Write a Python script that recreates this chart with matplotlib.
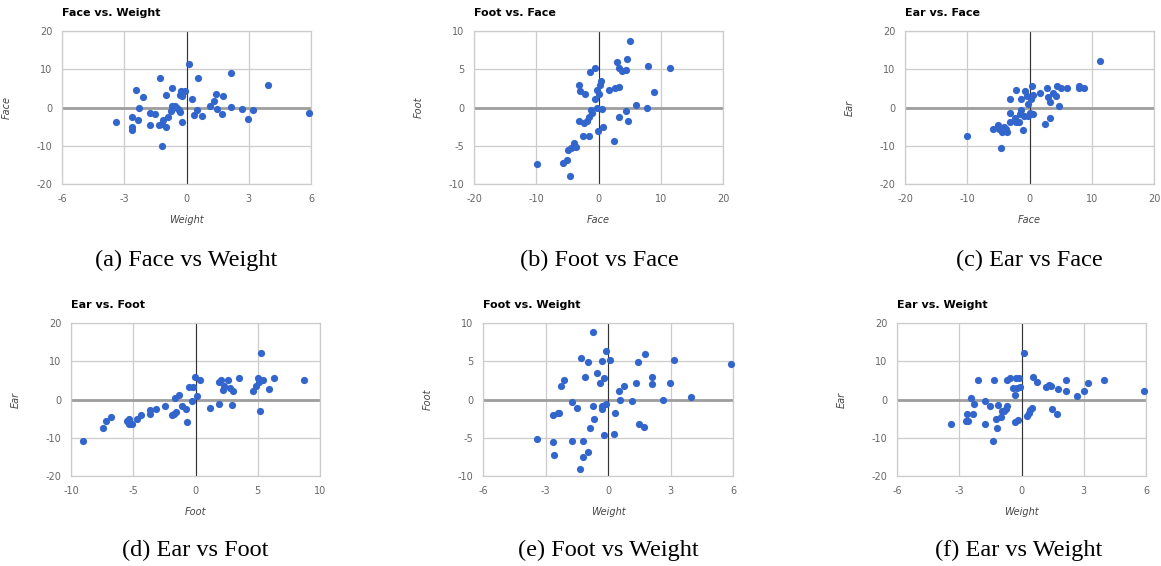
import matplotlib
matplotlib.use("Agg")
import matplotlib.pyplot as plt

# (a) Face vs Weight
a_weight = [-3.41, -2.64, -2.64, -2.61, -2.42, -2.32, -2.29, -2.10, -1.74, -1.74,
            -1.52, -1.30, -1.34, -1.20, -1.20, -1.12, -0.98, -1.01, -0.91, -0.75,
            -0.69, -0.72, -0.56, -0.45, -0.37, -0.30, -0.27, -0.30, -0.21, -0.21,
            -0.06, 0.11, 0.26, 0.35, 0.50, 0.56, 0.75, 1.15, 1.31, 1.41,
            1.47, 1.71, 1.76, 2.13, 2.13, 2.66, 2.98, 3.20, 3.95, 5.89]
a_face = [-3.7, -2.4, -5.0, -5.8, 4.7, -3.3, -0.2, 2.7, -1.5, -4.6,
          -1.6, 7.8, -4.6, -10.0, -4.3, -3.3, 3.2, -5.2, -2.5, -1.0,
          5.0, 0.5, 0.4, -0.1, -0.6, -1.2, 4.2, 3.2, -3.9, 3.1,
          4.4, 11.3, 2.3, -2.0, -0.6, 7.8, -2.3, 0.5, 1.7, 3.6,
          -0.3, -1.7, 2.9, 8.9, 0.2, -0.3, -3.1, -0.7, 6.0, -1.5]

# (b) Foot vs Face
b_face = [-9.95, -5.78, -5.08, -4.55, -4.87, -4.44, -4.06, -3.90, -3.58, -3.16,
          -3.05, -3.21, -2.46, -2.35, -2.14, -1.87, -1.60, -1.60, -1.34, -1.28,
          -1.02, -0.59, -0.53, -0.32, -0.27, -0.16, 0.00, 0.27, 0.43, 0.64,
          0.70, 1.66, 2.41, 2.73, 2.94, 3.26, 3.26, 3.32, 3.74, 4.39,
          4.49, 4.55, 4.81, 5.13, 6.10, 7.86, 7.97, 8.88, 11.44]
b_foot = [-7.4, -7.2, -6.8, -9.0, -5.5, -5.3, -5.2, -4.7, -5.1, 2.9,
          2.2, -1.8, -3.7, -2.0, 1.8, -1.7, -3.7, -1.3, 4.7, -0.3,
          -0.7, 5.1, 1.1, 2.3, 0.0, -3.1, 1.8, 2.9, 3.4, -0.2,
          -2.5, 2.3, -4.4, 2.5, 5.9, 2.7, 5.1, -1.3, 4.8, 4.9,
          -0.5, 6.3, -1.7, 8.7, 0.3, -0.1, 5.4, 2.0, 5.2]

# (c) Ear vs Face
c_face = [-10.0, 11.34, -5.83, -5.13, -4.92, -4.60, -4.49, -4.17, -3.85, -3.58,
          -3.20, -3.15, -3.10, -2.40, -2.19, -2.09, -1.71, -1.44, -1.39, -1.55,
          -1.12, -0.90, -0.69, -0.37, -0.27, -0.21, 0.00, 0.32, 0.43, 0.64,
          0.64, 1.66, 2.41, 2.78, 2.94, 3.26, 3.26, 3.74, 4.33, 4.44,
          4.81, 5.08, 5.99, 7.91, 7.91, 8.82]
c_ear = [-7.4, 12.1, -5.5, -4.6, -5.6, -10.7, -6.3, -5.1, -5.5, -6.3,
         -3.9, -1.4, 2.3, -2.8, 4.6, -3.7, -3.9, 2.3, -0.6, -1.7,
         -6.0, -2.3, 4.3, 2.9, 0.8, -2.3, -1.5, 2.2, 5.7, 3.3,
         -1.6, 3.9, -4.2, 5.0, 2.7, 1.4, -2.8, 3.7, 3.1, 5.6,
         0.5, 5.0, 5.2, 5.7, 5.0, 5.2]

# (d) Ear vs Foot
d_foot = [-9.04, -7.43, -7.16, -6.81, -5.53, -5.34, -5.31, -5.07, -4.67, -4.38,
          -3.63, -3.63, -3.15, -2.48, -1.89, -1.75, -1.59, -1.62, -1.30, -1.08,
          -0.76, -0.71, -0.50, -0.28, -0.17, -0.04, 0.09, 0.39, 1.16, 1.86,
          1.89, 2.05, 2.24, 2.26, 2.61, 2.74, 2.96, 3.01, 3.47, 4.65,
          4.86, 4.99, 5.07, 5.15, 5.26, 5.42, 5.93, 6.30, 8.74]
d_ear = [-10.8, -7.4, -5.5, -4.5, -5.6, -5.2, -6.4, -6.5, -5.2, -4.1,
         -2.7, -3.9, -2.4, -1.6, -4.0, -3.8, -3.2, 0.4, 1.3, -1.6,
         -2.6, -5.9, 3.2, -0.5, 3.2, 5.9, 0.9, 5.2, -2.2, -1.3,
         4.5, 5.2, 2.4, 3.6, 5.2, 2.9, -1.4, 2.2, 5.7, 2.2,
         3.6, 5.5, 4.5, -2.9, 12.1, 5.1, 2.7, 5.7, 5.1]

# (e) Foot vs Weight
e_weight = [-3.40, -2.63, -2.62, -2.60, -2.41, -2.33, -2.28, -2.09, -1.73, -1.73,
            -1.51, -1.35, -1.28, -1.22, -1.19, -1.11, -0.98, -0.96, -0.88, -0.74,
            -0.71, -0.69, -0.53, -0.39, -0.30, -0.29, -0.27, -0.19, -0.18, -0.08,
            -0.10, 0.11, 0.27, 0.35, 0.51, 0.58, 0.75, 1.16, 1.32, 1.43,
            1.49, 1.73, 1.78, 2.13, 2.13, 2.66, 2.98, 3.19, 3.96, 5.89]
e_foot = [-5.1, -2.0, -5.5, -7.2, -1.7, -1.8, 1.8, 2.6, -0.3, -5.4,
          -1.1, -9.1, 5.4, -5.4, -7.5, 2.9, -6.9, 4.9, -3.7, -0.8,
          8.8, -2.5, 3.4, 2.2, -0.8, -1.3, 5.0, 2.8, -4.7, -0.6,
          6.3, 5.2, -4.5, -1.7, 1.1, -0.1, 1.8, -0.2, 2.2, 4.9,
          -3.2, -3.6, 5.9, 3.0, 2.0, 0.0, 2.2, 5.1, 0.3, 4.7]

# (f) Ear vs Weight
f_weight = [-3.40, -2.66, -2.63, -2.59, -2.42, -2.34, -2.29, -2.10, -1.76, -1.74,
            -1.52, -1.36, -1.31, -1.23, -1.18, -1.12, -0.99, -0.96, -0.84, -0.75,
            -0.70, -0.68, -0.54, -0.39, -0.31, -0.31, -0.25, -0.20, -0.18, -0.10,
            -0.06, 0.12, 0.26, 0.34, 0.42, 0.49, 0.57, 0.76, 1.16, 1.33,
            1.44, 1.49, 1.71, 1.76, 2.14, 2.14, 2.66, 2.99, 3.20, 3.96, 5.90]
f_ear = [-6.4, -5.6, -3.9, -5.6, 0.4, -3.9, -1.2, 5.2, -0.4, -6.4,
         -1.6, -10.8, 5.2, -5.2, -7.4, -1.4, -4.5, -2.9, -2.9, -2.6,
         5.2, -1.6, 5.7, 2.9, 1.3, -6.0, 5.6, 3.0, -5.3, 5.7,
         3.2, 12.1, -4.2, -3.5, -2.7, -2.2, 5.8, 4.5, 3.3, 3.8,
         3.6, -2.4, -3.9, 2.8, 5.2, 2.1, 0.8, 2.3, 4.4, 5.2, 2.3]

W, H = 1161, 566
fig = plt.figure(figsize=(W / 100, H / 100), dpi=100)

BLUE = "#3366cc"
GRID = "#cccccc"


def panel(left, top, right, bottom, x, y, xt, yt, title, xlabel, ylabel, caption, cap_x, cap_y):
    w_px = right - left
    h_px = bottom - top
    ax = fig.add_axes([left / W, 1 - bottom / H, w_px / W, h_px / H])
    ax.set_xlim(xt[0], xt[-1])
    ax.set_ylim(yt[0], yt[-1])
    ax.set_xticks(xt)
    ax.set_yticks(yt)
    ax.set_xticklabels([str(v) for v in xt])
    ax.set_yticklabels([str(v) for v in yt])
    ax.grid(True, color=GRID, lw=0.9)
    ax.set_axisbelow(True)
    for s in ax.spines.values():
        s.set_color(GRID)
        s.set_linewidth(0.9)
    ax.tick_params(length=0, labelsize=7, labelcolor="#666666", pad=7)
    ax.axhline(0, color="#9e9e9e", lw=2, zorder=1)
    ax.axvline(0, color="#333333", lw=0.8, zorder=1)
    ax.scatter(x, y, s=27, color=BLUE, linewidths=0, zorder=3, clip_on=False)
    ax.set_xlabel(xlabel, fontsize=7, style="italic", color="#444444")
    ax.set_ylabel(ylabel, fontsize=7, style="italic", color="#444444")
    ax.xaxis.set_label_coords(0.5, -31 / h_px)
    ax.yaxis.set_label_coords(-50 / w_px, 0.5)
    ax.set_title(title, loc="left", fontsize=8, fontweight="bold", color="#000000", pad=11)
    fig.text(cap_x / W, 1 - cap_y / H, caption, ha="center", va="center",
             fontsize=17.5, family="Liberation Serif")
    return ax


panel(62, 31, 311, 184, a_weight, a_face, [-6, -3, 0, 3, 6], [-20, -10, 0, 10, 20],
      "Face vs. Weight", "Weight", "Face", "(a) Face vs Weight", 186, 260)
panel(474, 31, 723, 184, b_face, b_foot, [-20, -10, 0, 10, 20], [-10, -5, 0, 5, 10],
      "Foot vs. Face", "Face", "Foot", "(b) Foot vs Face", 599, 260)
panel(905, 31, 1154, 184, c_face, c_ear, [-20, -10, 0, 10, 20], [-20, -10, 0, 10, 20],
      "Ear vs. Face", "Face", "Ear", "(c) Ear vs Face", 1029, 260)
panel(71, 323, 320, 476, d_foot, d_ear, [-10, -5, 0, 5, 10], [-20, -10, 0, 10, 20],
      "Ear vs. Foot", "Foot", "Ear", "(d) Ear vs Foot", 195, 550)
panel(483, 323, 733, 476, e_weight, e_foot, [-6, -3, 0, 3, 6], [-10, -5, 0, 5, 10],
      "Foot vs. Weight", "Weight", "Foot", "(e) Foot vs Weight", 608, 550)
panel(897, 323, 1146, 476, f_weight, f_ear, [-6, -3, 0, 3, 6], [-20, -10, 0, 10, 20],
      "Ear vs. Weight", "Weight", "Ear", "(f) Ear vs Weight", 1019, 550)

fig.savefig("out.png", dpi=100)
